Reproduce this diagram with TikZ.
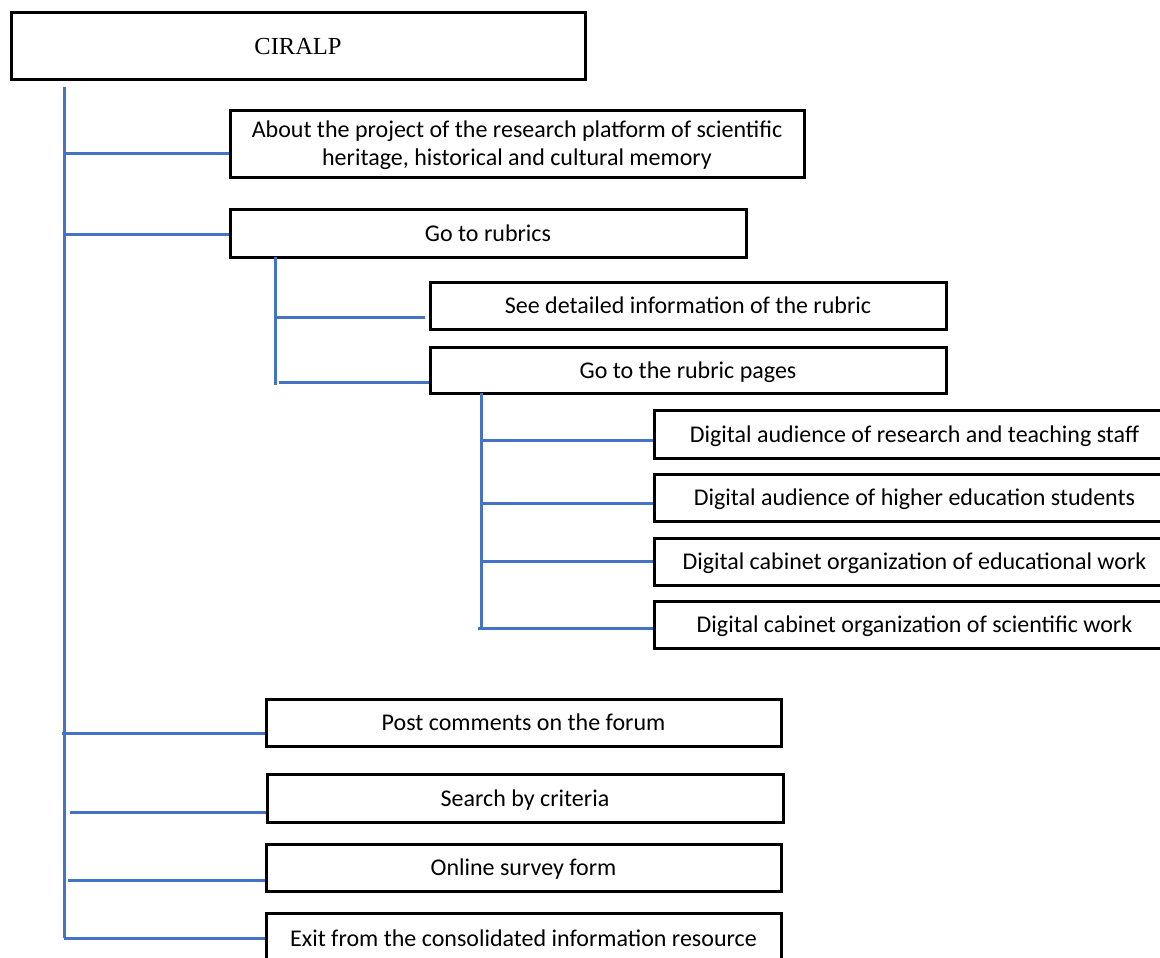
\documentclass[tikz,border=0pt]{standalone}
\usepackage{fontspec}
\setmainfont{Carlito}
\newfontfamily\tnr{Liberation Serif}
\definecolor{lineblue}{RGB}{68,114,196}
\newcommand\bx[6]{%
  \node[boxnode, minimum width={(#4-#2)*1pt}, minimum height={(#5-#3)*1pt}] (#1) at ({(#2+#4)/2},{(#3+#5)/2})
    {\raisebox{-2.5pt}[\height][\depth]{\begin{tabular}{@{}c@{}}#6\end{tabular}}};}
\begin{document}
\begin{tikzpicture}[x=1pt,y=-1pt,
  boxnode/.style={draw=black, line width=3pt, fill=white, inner sep=0pt,
    font=\fontsize{24}{28}\selectfont},
  conn/.style={draw=lineblue, line width=3pt}]
\useasboundingbox (0,0) rectangle (1160,958);
\clip (0,0) rectangle (1160,958);
\fill[white] (0,0) rectangle (1160,958);
% trunk end points
\coordinate (t0) at (64,87);
\coordinate (t1) at (64,938);
\coordinate (s0) at (275,257);
\coordinate (s1) at (275,385);
\coordinate (u0) at (481,393);
\coordinate (u1) at (481,628);
% boxes
\bx{ciralp}{11}{13}{585}{80}{\tnr\fontsize{24.5}{28}\selectfont CIRALP}
\bx{about}{230}{110}{804}{177}{About the project of the research platform of scientific\\heritage, historical and cultural memory}
\bx{rubrics}{230}{209}{746}{257}{Go to rubrics}
\bx{see}{430}{282}{946}{329}{See detailed information of the rubric}
\bx{pages}{430}{347}{946}{393}{Go to the rubric pages}
\bx{d1}{654}{410}{1175}{458}{Digital audience of research and teaching staff}
\bx{d2}{654}{474}{1175}{521}{Digital audience of higher education students}
\bx{d3}{654}{538}{1175}{585}{Digital cabinet organization of educational work}
\bx{d4}{654}{601}{1175}{648}{Digital cabinet organization of scientific work}
\bx{post}{266}{699}{781}{746}{Post comments on the forum}
\bx{search}{267}{774}{783}{822}{Search by criteria}
\bx{online}{266}{844}{781}{891}{Online survey form}
\bx{exit}{266}{913}{781}{963}{Exit from the consolidated information resource}
% trunks
\draw[conn] (t0) -- (t1);
\draw[conn] (s0) -- (s1);
\draw[conn] (u0) -- (u1);
% branches
\coordinate (b1) at (64,153);  \draw[conn] (b1) -- (b1 -| about.west);
\coordinate (b2) at (64,234);  \draw[conn] (b2) -- (b2 -| rubrics.west);
\coordinate (b3) at (62,733);  \draw[conn] (b3) -- (b3 -| post.west);
\coordinate (b4) at (70,812);  \draw[conn] (b4) -- (b4 -| search.west);
\coordinate (b5) at (68,880);  \draw[conn] (b5) -- (b5 -| online.west);
\coordinate (b6) at (64,938);  \draw[conn] (b6) -- (b6 -| exit.west);
\coordinate (c1) at (275,317); \draw[conn] (c1) -- ([xshift=-4pt]c1 -| see.west);
\coordinate (c2) at (279,382); \draw[conn] (c2) -- (c2 -| pages.west);
\coordinate (e1) at (481,440); \draw[conn] (e1) -- (e1 -| d1.west);
\coordinate (e2) at (481,503); \draw[conn] (e2) -- (e2 -| d2.west);
\coordinate (e3) at (481,561); \draw[conn] (e3) -- (e3 -| d3.west);
\coordinate (e4) at (478,628); \draw[conn] (e4) -- (e4 -| d4.west);
\end{tikzpicture}
\end{document}
